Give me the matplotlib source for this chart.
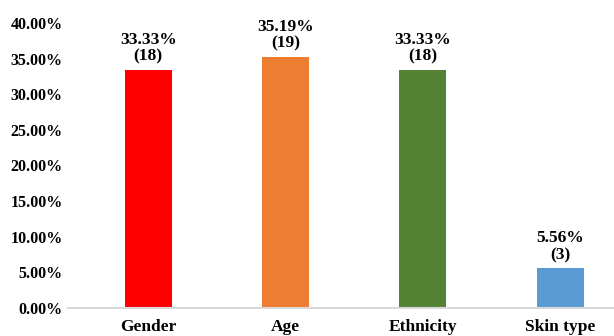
import matplotlib.pyplot as plt
from matplotlib.ticker import FuncFormatter

categories = ["Gender", "Age", "Ethnicity", "Skin type"]
percents = [33.33, 35.19, 33.33, 5.56]
counts = [18, 19, 18, 3]
colors = ["#FF0000", "#ED7D31", "#548235", "#5B9BD5"]

plt.rcParams["font.family"] = ["Liberation Serif", "DejaVu Serif"]
plt.rcParams["font.weight"] = "bold"

fig = plt.figure(figsize=(6.14, 3.36), dpi=100)
ax = fig.add_axes([0.111, 0.083, 0.889, 0.849])

x = range(len(categories))
ax.bar(x, percents, width=0.342, color=colors, zorder=2)

for xi, p, c in zip(x, percents, counts):
    ax.annotate(f"{p:.2f}%\n({c})", (xi, p), xytext=(0, 4),
                textcoords="offset points", ha="center", va="bottom",
                fontsize=12.5, fontweight="bold", linespacing=1.05)

ax.set_xlim(-0.5825, 3.393)
ax.set_ylim(0, 40)
ax.set_yticks(range(0, 41, 5))
ax.yaxis.set_major_formatter(FuncFormatter(lambda v, _: f"{v:.2f}%"))
ax.set_xticks(list(x))
ax.set_xticklabels(categories)
ax.tick_params(axis="both", length=0)
ax.tick_params(axis="x", pad=7.5, labelsize=12.5)
ax.tick_params(axis="y", pad=4, labelsize=11.5)
for lbl in ax.get_xticklabels() + ax.get_yticklabels():
    lbl.set_fontweight("bold")

for side in ["top", "right", "left"]:
    ax.spines[side].set_visible(False)
ax.spines["bottom"].set_color("#D9D9D9")
ax.spines["bottom"].set_linewidth(1.5)

fig.savefig("out.png", dpi=100)
